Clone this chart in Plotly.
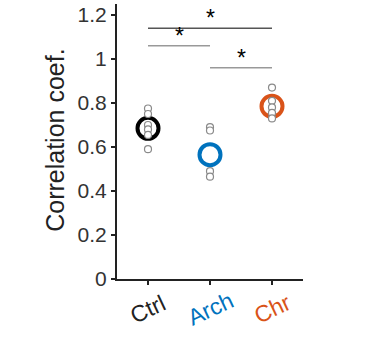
import plotly.graph_objects as go

# ---- data ----
groups = ["Ctrl", "Arch", "Chr"]
group_colors = ["#000000", "#0072BD", "#D95319"]
group_means = [0.685, 0.565, 0.785]
ctrl_points = [0.775, 0.75, 0.70, 0.68, 0.655, 0.59]
arch_points = [0.69, 0.675, 0.49, 0.465]
chr_points = [0.87, 0.81, 0.78, 0.755, 0.73]
# significance bars: (from group idx, to group idx, y level, colour)
sig_from = [1, 1, 2]
sig_to = [3, 2, 3]
sig_y = [1.14, 1.06, 0.96]
sig_colors = ["#555555", "#999999", "#999999"]
y_ticks = [0, 0.2, 0.4, 0.6, 0.8, 1, 1.2]
y_ticklabels = ["0", "0.2", "0.4", "0.6", "0.8", "1", "1.2"]

font = "Liberation Sans, Arial, sans-serif"
fig = go.Figure()

# mean circles
for i, (m, c) in enumerate(zip(group_means, group_colors)):
    fig.add_trace(go.Scatter(
        x=[i + 1], y=[m], mode="markers",
        marker=dict(symbol="circle-open", size=21, color=c, line=dict(width=4, color=c)),
        showlegend=False, hoverinfo="skip"))

# individual points
for i, pts in enumerate([ctrl_points, arch_points, chr_points]):
    fig.add_trace(go.Scatter(
        x=[i + 1] * len(pts), y=pts, mode="markers",
        marker=dict(symbol="circle", size=7, color="white",
                    line=dict(width=1.2, color="#8a8a8a")),
        showlegend=False, hoverinfo="skip"))

# significance bars and stars
for a, b, yv, col in zip(sig_from, sig_to, sig_y, sig_colors):
    fig.add_trace(go.Scatter(x=[a, b], y=[yv, yv], mode="lines",
                             line=dict(color=col, width=1.5),
                             showlegend=False, hoverinfo="skip"))
    fig.add_annotation(x=(a + b) / 2, y=yv, text="*", showarrow=False,
                       yanchor="bottom", yshift=-5,
                       font=dict(family=font, size=23, color="black"))

# colored rotated x tick labels
for i, (g, c) in enumerate(zip(groups, group_colors)):
    fig.add_annotation(x=i + 1, xref="x", y=-0.11, yref="paper", text=g,
                       showarrow=False, textangle=-25, xanchor="center", yanchor="middle",
                       font=dict(family=font, size=23, color=c if c != "#000000" else "#222222"))

# y axis title
fig.add_annotation(x=-0.335, xref="paper", y=0.505, yref="paper", text="Correlation coef.",
                   showarrow=False, textangle=-90, xanchor="center", yanchor="middle",
                   font=dict(family=font, size=25, color="#222222"))

fig.update_layout(
    width=379, height=343,
    margin=dict(l=117, r=76, t=4, b=64),
    plot_bgcolor="white", paper_bgcolor="white",
    font=dict(family=font, size=21, color="#333333"),
    xaxis=dict(range=[0.5, 3.5], tickvals=[1, 2, 3], ticktext=["", "", ""],
               showline=True, linecolor="#222222", linewidth=2,
               ticks="outside", ticklen=4, tickwidth=2, tickcolor="#222222",
               showgrid=False, zeroline=False),
    yaxis=dict(range=[0, 1.25], tickvals=y_ticks, ticktext=y_ticklabels,
               showline=True, linecolor="#222222", linewidth=2,
               ticks="outside", ticklen=4, tickwidth=2, tickcolor="#222222",
               showgrid=False, zeroline=False),
)

fig.write_html("out.html")
